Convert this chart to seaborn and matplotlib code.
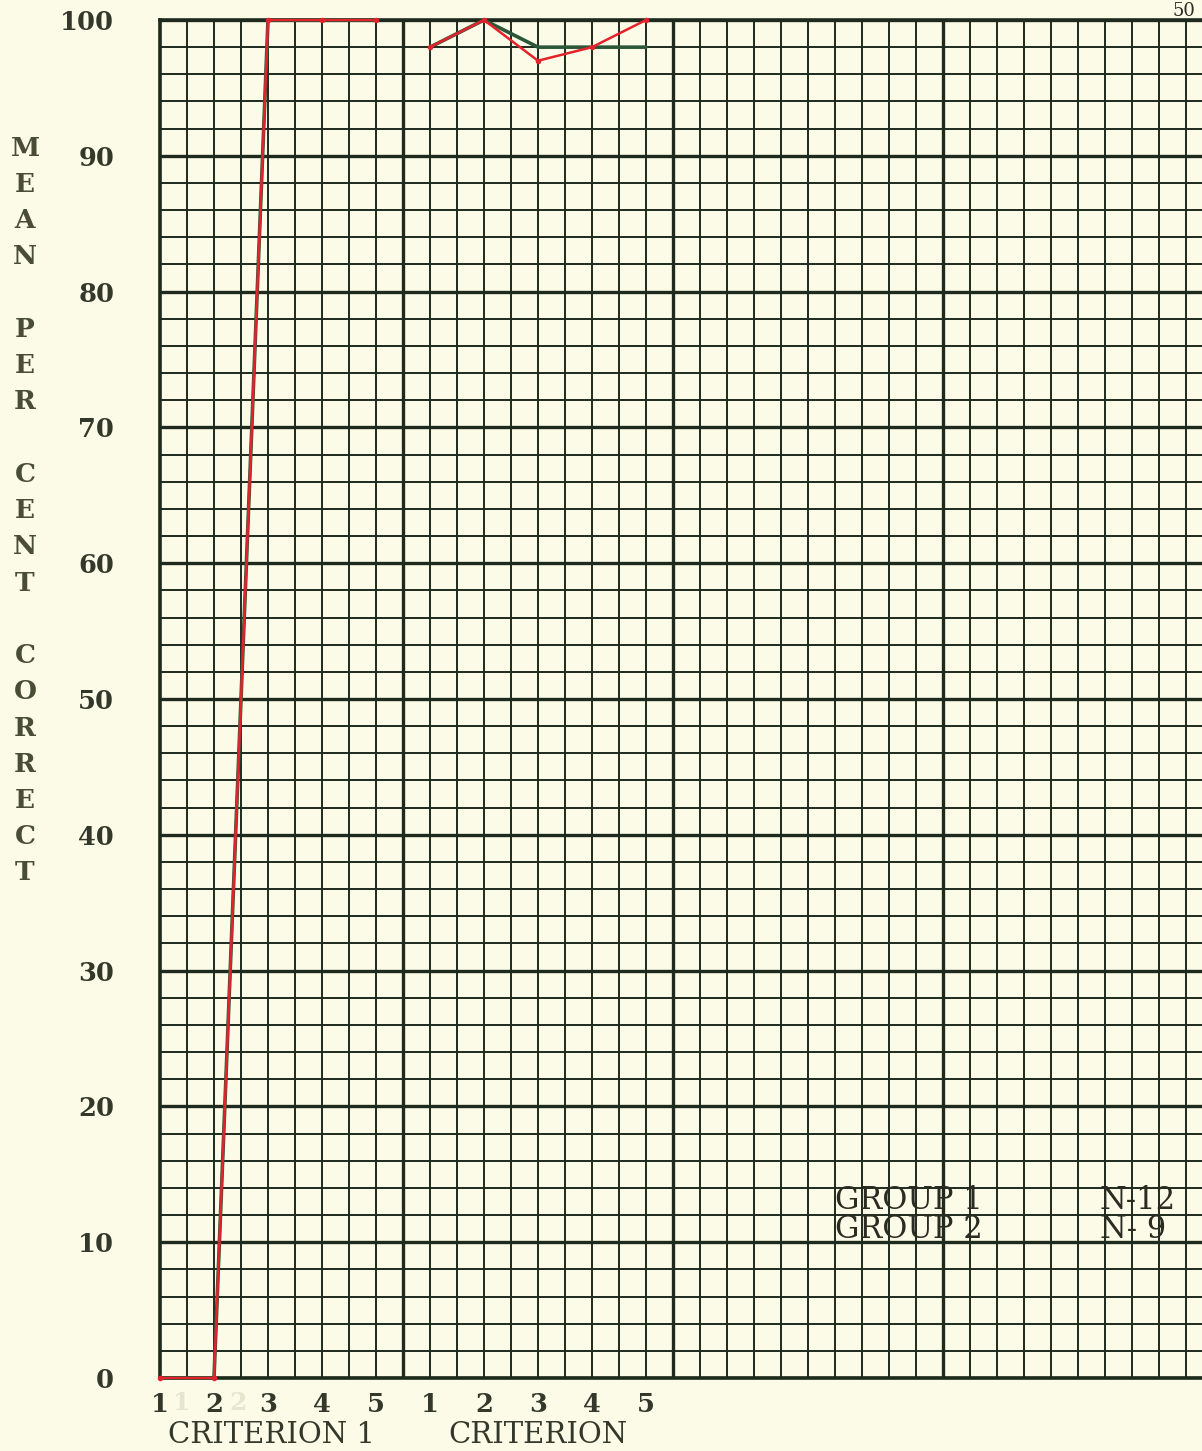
import numpy as np
import pandas as pd
import matplotlib
matplotlib.use("Agg")
import matplotlib.pyplot as plt
import seaborn as sns

# trial positions on the graph paper (one trial = two cells)
crit1_pos = [1, 3, 5, 7, 9]
crit2_pos = [11, 13, 15, 17, 19]
tick_labels = ["1", "2", "3", "4", "5", "1", "2", "3", "4", "5"]

# mean per cent correct per trial
group1_crit1 = [0, 0, 100, 100, 100]
group1_crit2 = [98, 100, 98, 98, 98]
group2_crit1 = [0, 0, 100, 100, 100]
group2_crit2 = [98, 100, 97, 98, 100]

y_ticks = list(range(0, 101, 10))
ylabel_text = "MEAN PER CENT CORRECT"

PAPER = "#fbfbe7"
INK = "#1d2a1d"
TEXT = "#33382a"
GREEN = "#2c5638"
RED = "#e3232c"


def build_frame():
    rows = []
    for grp, c1, c2 in [("GROUP 1", group1_crit1, group1_crit2),
                        ("GROUP 2", group2_crit1, group2_crit2)]:
        for x, v in zip(crit1_pos, c1):
            rows.append({"group": grp, "criterion": 1, "pos": x, "pct": v})
        for x, v in zip(crit2_pos, c2):
            rows.append({"group": grp, "criterion": 2, "pos": x, "pct": v})
    return pd.DataFrame(rows)


def main():
    df = build_frame()
    sns.set_theme(style="white")
    plt.rcParams["font.family"] = ["DejaVu Serif"]

    fig = plt.figure(figsize=(12.02, 14.51), dpi=100, facecolor=PAPER)
    W, H = 1202, 1451
    ax = fig.add_axes([160 / W, 1 - 1378 / H, 1 - 160 / W, (1378 - 20) / H])
    ax.set_facecolor(PAPER)

    xmax = 1 + (W - 160) / 27.0
    ax.set_xlim(1, xmax)
    ax.set_ylim(0, 100)

    # graph paper grid
    ax.xaxis.remove_overlapping_locs = False
    ax.yaxis.remove_overlapping_locs = False
    ax.set_xticks(np.arange(1, xmax, 1), minor=True)
    ax.set_yticks(np.arange(0, 101, 2), minor=True)
    ax.grid(which="minor", color=INK, linewidth=1.4)
    ax.set_yticks(y_ticks)
    ax.set_yticklabels([str(t) for t in y_ticks])
    ax.grid(which="major", axis="y", color=INK, linewidth=2.4)
    ax.grid(which="major", axis="x", visible=False)
    for xv in np.arange(10, xmax, 10):
        ax.axvline(xv, color=INK, linewidth=2.4, zorder=0.5)
    ax.set_axisbelow(True)

    ax.set_xticks(crit1_pos + crit2_pos)
    ax.set_xticklabels(tick_labels)
    ax.tick_params(which="both", length=0)
    ax.tick_params(axis="y", pad=33, labelsize=18.5, labelcolor=TEXT)
    ax.tick_params(axis="x", pad=10, labelsize=18.5, labelcolor=TEXT)
    for lab in ax.get_xticklabels() + ax.get_yticklabels():
        lab.set_fontweight("bold")

    for side in ["left", "top", "bottom"]:
        ax.spines[side].set_color(INK)
        ax.spines[side].set_linewidth(2.6)
    ax.spines["right"].set_visible(False)

    sns.lineplot(data=df[df.group == "GROUP 1"], x="pos", y="pct", units="criterion",
                 estimator=None, color=GREEN, linewidth=2.6, ax=ax, legend=False,
                 clip_on=False, zorder=3)
    sns.lineplot(data=df[df.group == "GROUP 2"], x="pos", y="pct", units="criterion",
                 estimator=None, color=RED, linewidth=1.8, marker="o", markersize=4,
                 markeredgewidth=0, ax=ax, legend=False, clip_on=False, zorder=4)
    ax.set_xlabel("")
    ax.set_ylabel("")

    # faint ghost digits printed on the paper
    for xv, s in [(1.8, "1"), (3.9, "2")]:
        ax.text(xv, -1.85, s, ha="center", va="center", fontsize=18,
                fontweight="bold", color="#e6e6cf", transform=ax.transData,
                clip_on=False)

    # criterion captions
    fig.text(271 / W, 1 - 1435 / H, "CRITERION 1", ha="center", va="center",
             fontsize=21, color=TEXT)
    fig.text(538 / W, 1 - 1435 / H, "CRITERION", ha="center", va="center",
             fontsize=21, color=TEXT)

    # stacked y label
    for i, ch in enumerate(ylabel_text):
        if ch != " ":
            fig.text(25 / W, 1 - (148 + i * 36.25) / H, ch, ha="center", va="center",
                     fontsize=19, fontweight="bold", color="#4a4d36")

    # group key
    ax.text(26.0, 13.1, "GROUP 1", fontsize=22, color="#2b2b22", va="center")
    ax.text(26.0, 10.9, "GROUP 2", fontsize=22, color="#2b2b22", va="center")
    ax.text(35.8, 13.1, "N-12", fontsize=22, color="#2b2b22", va="center")
    ax.text(35.8, 10.9, "N- 9", fontsize=22, color="#2b2b22", va="center")

    # page number at the top edge
    fig.text(1195 / W, 1 - 2 / H, "50", ha="right", va="top", fontsize=13,
             color="#2b2b22")

    fig.savefig("out.png", dpi=100, facecolor=PAPER)


if __name__ == "__main__":
    main()
